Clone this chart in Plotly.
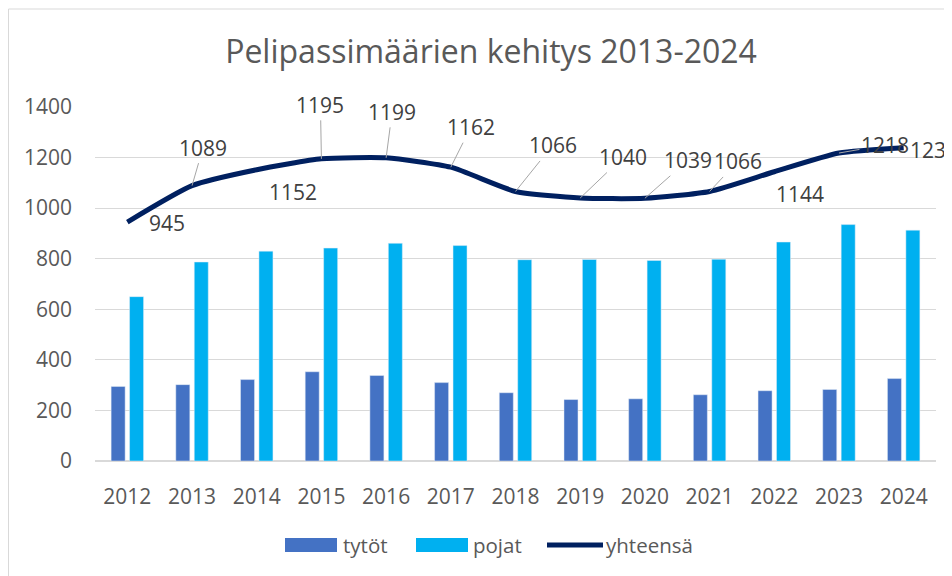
import plotly.graph_objects as go

years = ["2012", "2013", "2014", "2015", "2016", "2017", "2018",
         "2019", "2020", "2021", "2022", "2023", "2024"]
tytot = [295, 302, 322, 353, 338, 310, 270, 243, 246, 262, 278, 283, 326]
pojat = [650, 787, 830, 842, 861, 852, 796, 797, 793, 798, 866, 935, 913]
yhteensa = [945, 1089, 1152, 1195, 1199, 1162, 1066, 1040, 1039, 1066, 1144, 1218, 1239]

# label offsets (pixels) for the total-line labels: (dx, dy, leader line?)
label_offsets = [(40, 1, False), (11, -38, True), (36, 22, False), (-1, -54, True),
                 (6, -46, True), (20, -40, True), (37, -46, True), (43, -41, True),
                 (43, -38, True), (28, -30, True), (26, 22, False), (46, -8, True),
                 (30, 2, False)]

OFF = 8  # page offset of the figure inside the browser window
W, H = 952, 576
L = 95 - OFF
T = 107 - OFF
R = W - (936 - OFF)
B = H - (461 - OFF)
PW, PH = W - L - R, H - T - B

def px(x):  # window pixel x -> paper
    return (x - OFF - L) / PW

def py(y):  # window pixel y -> paper
    return (H - B - (y - OFF)) / PH

FONT = "Open Sans"
GREY = "#595959"

fig = go.Figure()
fig.add_trace(go.Bar(x=years, y=tytot, name="tytöt", marker_color="#4472C4",
                     showlegend=False))
fig.add_trace(go.Bar(x=years, y=pojat, name="pojat", marker_color="#00B0F0",
                     showlegend=False))
fig.add_trace(go.Scatter(x=years, y=yhteensa, name="yhteensä", mode="lines",
                         line=dict(color="#002060", width=5, shape="spline", smoothing=0.55),
                         showlegend=False))

annotations = []
for i, (v, (dx, dy, lead)) in enumerate(zip(yhteensa, label_offsets)):
    if lead:
        annotations.append(dict(x=i, y=v, xref="x", yref="y", text=str(v),
                                showarrow=True, ax=dx, ay=dy, arrowhead=0,
                                arrowwidth=1, arrowcolor="#A6A6A6", standoff=0,
                                font=dict(family=FONT, size=21, color="#404040")))
    else:
        annotations.append(dict(x=i, y=v, xref="x", yref="y", text=str(v),
                                showarrow=False, xshift=dx, yshift=-dy,
                                font=dict(family=FONT, size=21, color="#404040")))

# custom legend
legend_items = [("tytöt", "#4472C4", "bar", 285, 337, 341),
                ("pojat", "#00B0F0", "bar", 416, 468, 471),
                ("yhteensä", "#002060", "line", 547, 603, 604)]
shapes = []
for name, col, kind, x0, x1, tx in legend_items:
    if kind == "bar":
        shapes.append(dict(type="rect", xref="paper", yref="paper",
                           x0=px(x0), x1=px(x1), y0=py(552), y1=py(538),
                           fillcolor=col, line=dict(width=0)))
    else:
        shapes.append(dict(type="line", xref="paper", yref="paper",
                           x0=px(x0), x1=px(x1), y0=py(545), y1=py(545),
                           line=dict(color=col, width=5)))
    annotations.append(dict(x=px(tx), y=py(545), xref="paper", yref="paper",
                            text=name, showarrow=False, xanchor="left", yanchor="middle",
                            font=dict(family=FONT, size=20.5, color=GREY)))

# chart border
shapes.append(dict(type="rect", xref="paper", yref="paper",
                   x0=px(8.5), x1=px(1000), y0=py(640), y1=py(9),
                   line=dict(color="#D9D9D9", width=1), fillcolor="rgba(0,0,0,0)",
                   layer="below"))

fig.update_layout(
    width=W, height=H,
    margin=dict(l=L, r=R, t=T, b=B, autoexpand=False),
    paper_bgcolor="white", plot_bgcolor="white",
    barmode="group", bargap=0.43, bargroupgap=0.24,
    title=dict(text="Pelipassimäärien kehitys 2013-2024", x=(491 - OFF) / W,
               xanchor="center", y=1 - (52 - OFF) / H, yanchor="middle", yref="container",
               font=dict(family=FONT, size=32, color=GREY)),
    font=dict(family=FONT, color=GREY),
    xaxis=dict(type="category", range=[-0.5, len(years) - 0.5], autorange=False,
               showgrid=False, showline=True, linecolor="#D9D9D9",
               linewidth=1, ticks="", tickfont=dict(family=FONT, size=21, color=GREY),
               ticklabelstandoff=17),
    yaxis=dict(range=[0, 1400], autorange=False, dtick=200, showgrid=True,
               gridcolor="#D9D9D9", gridwidth=1, zeroline=True,
               zerolinecolor="#D9D9D9", showline=False,
               ticks="", tickfont=dict(family=FONT, size=21, color=GREY),
               ticklabelstandoff=22),
    annotations=annotations,
    shapes=shapes,
)

fig.write_html("out.html")
